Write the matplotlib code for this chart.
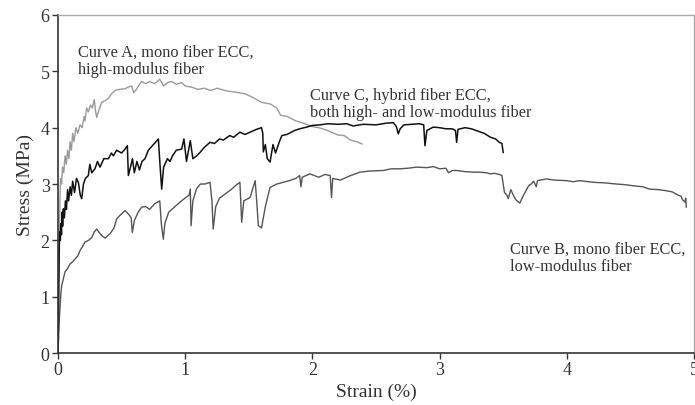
import matplotlib.pyplot as plt

plt.rcParams['font.family'] = ['Liberation Serif', 'DejaVu Serif']

# curve A: mono fiber ECC, high-modulus fiber
strain_a = [0, 0.004, 0.008, 0.012, 0.016, 0.02, 0.028, 0.035, 0.045, 0.055, 0.065, 0.075,
            0.085, 0.095, 0.105, 0.115, 0.125, 0.14, 0.155, 0.173, 0.19, 0.205, 0.212, 0.225,
            0.238, 0.255, 0.27, 0.285, 0.295, 0.304, 0.32, 0.343, 0.37, 0.396, 0.42, 0.448,
            0.48, 0.527, 0.55, 0.579, 0.595, 0.61, 0.635, 0.658, 0.69, 0.72, 0.76, 0.8, 0.83,
            0.86, 0.894, 0.93, 0.97, 1.0, 1.05, 1.1, 1.15, 1.2, 1.25, 1.33, 1.4, 1.47, 1.52,
            1.56, 1.6, 1.67, 1.72, 1.75, 1.8, 1.87, 1.93, 2.0, 2.05, 2.12, 2.2, 2.25, 2.3,
            2.35, 2.39]
stress_a = [0, 0.8, 1.6, 2.3, 2.8, 3.1, 3.0, 3.3, 3.2, 3.5, 3.35, 3.6,
            3.45, 3.75, 3.6, 3.9, 3.75, 4.0, 3.9, 4.05, 4.0, 4.2, 4.12, 4.35,
            4.28, 4.4, 4.35, 4.5, 4.3, 4.18, 4.3, 4.45, 4.48, 4.52, 4.6, 4.66,
            4.68, 4.69, 4.72, 4.74, 4.62, 4.66, 4.75, 4.82, 4.78, 4.82, 4.78, 4.86, 4.74,
            4.8, 4.82, 4.77, 4.8, 4.74, 4.72, 4.68, 4.7, 4.66, 4.7, 4.65, 4.63, 4.6, 4.55,
            4.5, 4.45, 4.42, 4.35, 4.22, 4.2, 4.12, 4.08, 4.02, 4.0, 3.95, 3.87, 3.86, 3.78,
            3.75, 3.71]

# curve C: hybrid fiber ECC
strain_c = [0, 0.005, 0.01, 0.014, 0.018, 0.022, 0.027, 0.032, 0.036, 0.042, 0.05, 0.058,
            0.066, 0.075, 0.083, 0.095, 0.105, 0.115, 0.13, 0.145, 0.16, 0.175, 0.186, 0.2,
            0.215, 0.238, 0.25, 0.265, 0.29, 0.31, 0.33, 0.36, 0.396, 0.42, 0.435, 0.46, 0.5,
            0.527, 0.545, 0.553, 0.57, 0.585, 0.6, 0.62, 0.64, 0.66, 0.684, 0.71, 0.75, 0.789,
            0.8, 0.815, 0.83, 0.86, 0.88, 0.9, 0.93, 0.972, 0.99, 1.01, 1.04, 1.06, 1.09,
            1.116, 1.15, 1.195, 1.23, 1.27, 1.3, 1.35, 1.38, 1.43, 1.47, 1.51, 1.56, 1.6,
            1.61, 1.614, 1.63, 1.645, 1.667, 1.69, 1.71, 1.74, 1.76, 1.8, 1.86, 1.9, 1.955,
            2.0, 2.06, 2.12, 2.2, 2.27, 2.32, 2.4, 2.5, 2.58, 2.636, 2.66, 2.675, 2.69, 2.72,
            2.78, 2.84, 2.875, 2.885, 2.9, 2.95, 3.0, 3.05, 3.1, 3.125, 3.134, 3.145, 3.2,
            3.25, 3.3, 3.35, 3.4, 3.44, 3.47, 3.49, 3.5]
stress_c = [0, 1.0, 1.9, 2.15, 2.0, 2.3, 2.1, 2.5, 2.25, 2.56, 2.4, 2.7,
            2.55, 2.9, 2.7, 2.95, 2.8, 3.05, 2.85, 3.1, 3.03, 2.8, 2.74, 3.0,
            3.1, 3.15, 3.35, 3.2, 3.27, 3.4, 3.3, 3.45, 3.45, 3.55, 3.5, 3.6, 3.55,
            3.62, 3.68, 3.15, 3.3, 3.45, 3.2, 3.4, 3.25, 3.4, 3.45, 3.6, 3.7, 3.8,
            3.4, 2.91, 3.3, 3.45, 3.4, 3.5, 3.6, 3.62, 3.8, 3.4, 3.77, 3.45, 3.5,
            3.56, 3.65, 3.74, 3.72, 3.8, 3.78, 3.86, 3.83, 3.92, 3.88, 3.92, 3.97, 4.0,
            3.9, 3.57, 3.7, 3.45, 3.39, 3.7, 3.55, 3.75, 3.86, 3.88, 3.95, 3.98, 4.01,
            4.04, 4.05, 4.07, 4.06, 4.07, 4.03, 4.06, 4.05, 4.08, 4.09, 4.02, 3.89, 3.98, 4.05,
            4.06, 4.07, 4.05, 3.68, 3.95, 4.01, 4.0, 3.98, 3.98, 3.95, 3.74, 3.97, 4.0,
            3.98, 3.94, 3.9, 3.83, 3.8, 3.74, 3.72, 3.56]

# curve B: mono fiber ECC, low-modulus fiber
strain_b = [0, 0.005, 0.01, 0.016, 0.022, 0.029, 0.04, 0.055, 0.075, 0.094, 0.115, 0.134,
            0.155, 0.173, 0.19, 0.212, 0.24, 0.265, 0.285, 0.304, 0.32, 0.345, 0.37, 0.41,
            0.44, 0.461, 0.49, 0.527, 0.56, 0.575, 0.584, 0.6, 0.63, 0.658, 0.69, 0.72, 0.76,
            0.8, 0.812, 0.828, 0.84, 0.87, 0.92, 0.97, 1.01, 1.03, 1.04, 1.046, 1.06, 1.09,
            1.12, 1.156, 1.195, 1.21, 1.22, 1.24, 1.27, 1.3, 1.36, 1.4, 1.43, 1.444, 1.46,
            1.51, 1.55, 1.565, 1.575, 1.6, 1.63, 1.667, 1.72, 1.77, 1.82, 1.87, 1.9, 1.91,
            1.92, 1.98, 2.05, 2.1, 2.14, 2.15, 2.16, 2.22, 2.3, 2.374, 2.45, 2.557, 2.62,
            2.69, 2.75, 2.82, 2.9, 2.95, 3.0, 3.05, 3.07, 3.1, 3.134, 3.2, 3.27, 3.32, 3.37,
            3.4, 3.43, 3.47, 3.49, 3.5, 3.51, 3.53, 3.54, 3.56, 3.58, 3.6, 3.63, 3.66, 3.7,
            3.72, 3.74, 3.76, 3.77, 3.84, 3.9, 4.0, 4.05, 4.1, 4.21, 4.3, 4.39, 4.45, 4.52,
            4.6, 4.65, 4.72, 4.785, 4.83, 4.86, 4.9, 4.91, 4.93, 4.935, 4.94]
stress_b = [0, 0.3, 0.6, 0.84, 1.05, 1.2, 1.3, 1.44, 1.5, 1.58, 1.62, 1.67,
            1.72, 1.82, 1.88, 1.97, 2.0, 2.05, 2.15, 2.2, 2.15, 2.08, 2.04, 2.12,
            2.22, 2.38, 2.45, 2.53, 2.45, 2.4, 2.14, 2.35, 2.5, 2.59, 2.6, 2.55, 2.65,
            2.7, 2.3, 2.02, 2.3, 2.5, 2.6, 2.7, 2.77, 2.8, 2.91, 2.26, 2.7, 2.92,
            3.0, 3.0, 3.03, 2.7, 2.2, 2.6, 2.75, 2.8, 2.9, 2.98, 3.03, 2.32, 2.7,
            2.76, 3.06, 2.6, 2.26, 2.22, 2.6, 2.94, 3.0, 3.03, 3.06, 3.1, 3.15, 2.95,
            3.12, 3.18, 3.12, 3.17, 3.15, 2.76, 3.1, 3.07, 3.15, 3.21, 3.23, 3.24, 3.27,
            3.27, 3.28, 3.3, 3.29, 3.31, 3.27, 3.28, 3.2, 3.24, 3.24, 3.22, 3.21, 3.21, 3.2,
            3.18, 3.19, 3.17, 3.15, 3.0, 2.85, 2.8, 2.74, 2.9, 2.8, 2.72, 2.66, 2.8, 2.97,
            3.0, 3.05, 2.95, 3.06, 3.09, 3.07, 3.06, 3.04, 3.06, 3.03, 3.02, 3.0, 2.99, 2.97,
            2.95, 2.91, 2.9, 2.88, 2.86, 2.82, 2.78, 2.72, 2.68, 2.75, 2.59]

fig = plt.figure(figsize=(6.95, 4.06), dpi=100)
ax = fig.add_axes([0.0835, 0.128, 0.915, 0.8326])

ax.plot(strain_a, stress_a, color='#9a9a9a', lw=1.0)
ax.plot(strain_b, stress_b, color='#555555', lw=1.0)
ax.plot(strain_c, stress_c, color='#111111', lw=1.1)

txt = dict(fontsize=11.8, color='#333333', va='top', ha='left', linespacing=1.12)
ax.text(0.157, 5.5, 'Curve A, mono fiber ECC,\nhigh-modulus fiber', **txt)
ax.text(1.98, 4.73, 'Curve C, hybrid fiber ECC,\nboth high- and low-modulus fiber', **txt)
ax.text(3.55, 2.0, 'Curve B, mono fiber ECC,\nlow-modulus fiber', **txt)

ax.set_xlim(0, 5)
ax.set_ylim(0, 6)
ax.set_xticks([0, 1, 2, 3, 4, 5])
ax.set_yticks([0, 1, 2, 3, 4, 5, 6])
ax.set_xlabel('Strain (%)', fontsize=14, color='#333333', labelpad=3)
ax.set_ylabel('Stress (MPa)', fontsize=14, color='#333333', labelpad=5)
ax.tick_params(labelsize=13, colors='#333333', length=4, width=1, pad=2)

for side in ['left', 'bottom']:
    ax.spines[side].set_color('#333333')
    ax.spines[side].set_linewidth(1.2)
for side in ['top', 'right']:
    ax.spines[side].set_color('#aaaaaa')
    ax.spines[side].set_linewidth(1.0)

plt.savefig('out.png', dpi=100)
